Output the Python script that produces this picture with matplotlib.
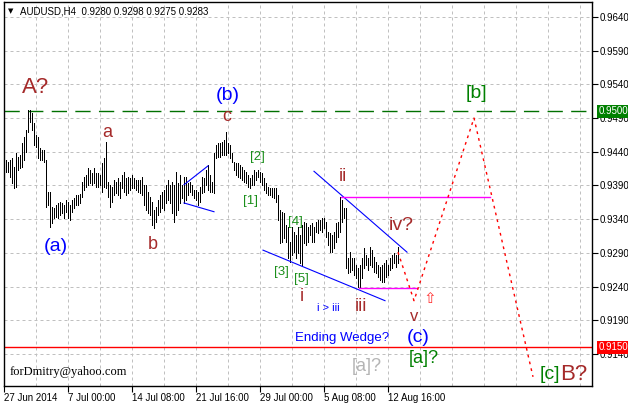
import matplotlib
matplotlib.use('Agg')
import matplotlib.pyplot as plt
from matplotlib.transforms import blended_transform_factory

plt.rcParams['font.family'] = ['Liberation Sans', 'DejaVu Sans']

# AUDUSD H4 bars, left to right (high / low)
highs = [0.9428, 0.9425, 0.9428, 0.9431, 0.9417, 0.9438, 0.9432, 0.9435, 0.9453, 0.9462,
         0.9472, 0.9502, 0.9502, 0.9498, 0.9483, 0.9465, 0.9462, 0.9446, 0.9443, 0.9443,
         0.9428, 0.9380, 0.9380, 0.9358, 0.9357, 0.9361, 0.9364, 0.9365, 0.9364, 0.9361,
         0.9368, 0.9365, 0.9361, 0.9368, 0.9371, 0.9376, 0.9376, 0.9377, 0.9395, 0.9402,
         0.9405, 0.9416, 0.9413, 0.9408, 0.9416, 0.9408, 0.9408, 0.9405, 0.9423, 0.9431,
         0.9454, 0.9395, 0.9391, 0.9388, 0.9398, 0.9395, 0.9401, 0.9395, 0.9405, 0.9410,
         0.9401, 0.9402, 0.9401, 0.9405, 0.9401, 0.9398, 0.9398, 0.9398, 0.9402, 0.9391,
         0.9391, 0.9380, 0.9373, 0.9365, 0.9354, 0.9358, 0.9368, 0.9376, 0.9380, 0.9383,
         0.9391, 0.9398, 0.9391, 0.9395, 0.9391, 0.9410, 0.9394, 0.9405, 0.9391, 0.9402,
         0.9402, 0.9394, 0.9395, 0.9391, 0.9383, 0.9383, 0.9380, 0.9388, 0.9402, 0.9401,
         0.9413, 0.9420, 0.9405, 0.9395, 0.9438, 0.9450, 0.9453, 0.9453, 0.9454, 0.9457,
         0.9469, 0.9453, 0.9450, 0.9438, 0.9425, 0.9423, 0.9423, 0.9420, 0.9417, 0.9413,
         0.9410, 0.9405, 0.9401, 0.9405, 0.9413, 0.9410, 0.9413, 0.9410, 0.9408, 0.9401,
         0.9394, 0.9388, 0.9386, 0.9386, 0.9386, 0.9386, 0.9376, 0.9354, 0.9351, 0.9349,
         0.9331, 0.9328, 0.9306, 0.9328, 0.9321, 0.9316, 0.9328, 0.9316, 0.9331, 0.9336,
         0.9334, 0.9328, 0.9331, 0.9334, 0.9328, 0.9336, 0.9339, 0.9339, 0.9342, 0.9342,
         0.9336, 0.9321, 0.9320, 0.9316, 0.9321, 0.9334, 0.9336, 0.9373, 0.9368, 0.9357,
         0.9357, 0.9282, 0.9291, 0.9282, 0.9282, 0.9272, 0.9268, 0.9272, 0.9282, 0.9297,
         0.9287, 0.9282, 0.9299, 0.9294, 0.9284, 0.9276, 0.9272, 0.9269, 0.9272, 0.9275,
         0.9279, 0.9272, 0.9282, 0.9287, 0.9290, 0.9287, 0.9298]
lows = [0.9410, 0.9410, 0.9402, 0.9394, 0.9386, 0.9388, 0.9413, 0.9416, 0.9417, 0.9428,
        0.9440, 0.9469, 0.9484, 0.9472, 0.9450, 0.9447, 0.9431, 0.9428, 0.9428, 0.9425,
        0.9358, 0.9361, 0.9328, 0.9334, 0.9342, 0.9343, 0.9342, 0.9346, 0.9349, 0.9342,
        0.9351, 0.9342, 0.9339, 0.9351, 0.9357, 0.9361, 0.9361, 0.9364, 0.9373, 0.9383,
        0.9388, 0.9391, 0.9394, 0.9391, 0.9394, 0.9388, 0.9388, 0.9391, 0.9380, 0.9388,
        0.9386, 0.9373, 0.9358, 0.9365, 0.9376, 0.9379, 0.9376, 0.9371, 0.9386, 0.9380,
        0.9376, 0.9379, 0.9383, 0.9386, 0.9386, 0.9383, 0.9380, 0.9379, 0.9376, 0.9361,
        0.9354, 0.9349, 0.9346, 0.9331, 0.9327, 0.9336, 0.9346, 0.9351, 0.9357, 0.9354,
        0.9364, 0.9368, 0.9364, 0.9349, 0.9336, 0.9346, 0.9354, 0.9364, 0.9371, 0.9364,
        0.9368, 0.9376, 0.9380, 0.9376, 0.9371, 0.9368, 0.9361, 0.9365, 0.9379, 0.9380,
        0.9391, 0.9383, 0.9380, 0.9380, 0.9379, 0.9431, 0.9432, 0.9432, 0.9435, 0.9435,
        0.9435, 0.9438, 0.9431, 0.9425, 0.9413, 0.9405, 0.9402, 0.9401, 0.9398, 0.9395,
        0.9394, 0.9388, 0.9386, 0.9391, 0.9391, 0.9398, 0.9402, 0.9395, 0.9391, 0.9383,
        0.9379, 0.9376, 0.9376, 0.9373, 0.9371, 0.9365, 0.9339, 0.9305, 0.9306, 0.9312,
        0.9306, 0.9282, 0.9276, 0.9287, 0.9291, 0.9282, 0.9290, 0.9275, 0.9272, 0.9305,
        0.9302, 0.9306, 0.9316, 0.9306, 0.9306, 0.9321, 0.9320, 0.9324, 0.9321, 0.9327,
        0.9313, 0.9302, 0.9291, 0.9291, 0.9297, 0.9306, 0.9313, 0.9321, 0.9336, 0.9342,
        0.9268, 0.9260, 0.9261, 0.9265, 0.9257, 0.9253, 0.9240, 0.9238, 0.9253, 0.9268,
        0.9272, 0.9265, 0.9272, 0.9269, 0.9261, 0.9260, 0.9254, 0.9250, 0.9247, 0.9247,
        0.9254, 0.9257, 0.9265, 0.9268, 0.9275, 0.9269, 0.9275]

# axis labels
date_ticks = [-1, 31, 63, 95, 127, 159, 191]
date_labels = ['27 Jun 2014', '7 Jul 00:00', '14 Jul 08:00', '21 Jul 16:00',
               '29 Jul 00:00', '5 Aug 08:00', '12 Aug 16:00']
price_ticks = [0.9140, 0.9190, 0.9240, 0.9290, 0.9340, 0.9390, 0.9440,
               0.9490, 0.9540, 0.9590, 0.9640]

# levels and trend lines (bar index, price)
target_level = 0.9500
stop_level = 0.9150
small_wedge_top = ([89, 101], [0.9391, 0.9419])
small_wedge_bot = ([89, 104], [0.9364, 0.9351])
wedge_top = ([154, 200.5], [0.9411, 0.9291])
wedge_bot = ([128.5, 189.5], [0.9294, 0.9219])
ii_level = ([167.5, 242], [0.9373, 0.9373])
iii_level = ([176.5, 205.5], [0.9238, 0.9238])
proj_bars = [196, 204, 234, 263.5]
proj_prices = [0.9291, 0.9219, 0.9490, 0.9106]

brown = '#a52a2a'
blue = '#0000ff'
green = '#008000'
lgreen = '#1a8f1a'
# wave labels: text, bar, price, colour, size
wave_labels = [
    ('A?', 14.75, 0.9536, brown, 16),
    ('a', 50.5, 0.9469, brown, 13),
    ('(a)', 25, 0.9299, blue, 14),
    ('b', 73.5, 0.9303, brown, 13),
    ('(b)', 111, 0.9523, blue, 14),
    ('c', 110.5, 0.9493, brown, 13),
    ('[2]', 125.75, 0.9432, lgreen, 9.5),
    ('[1]', 122, 0.9367, lgreen, 9.5),
    ('[4]', 144.5, 0.9336, lgreen, 9.5),
    ('[3]', 137.75, 0.9262, lgreen, 9.5),
    ('[5]', 147.75, 0.9251, lgreen, 9.5),
    ('i', 147.75, 0.9225, brown, 13),
    ('ii', 168.25, 0.9403, brown, 13),
    ('iii', 177.5, 0.9211, brown, 13),
    ('iv?', 197.75, 0.9330, brown, 14),
    ('i > iii', 161.25, 0.9208, blue, 8),
    ('v', 204, 0.9195, brown, 12),
    ('(c)', 206, 0.9165, blue, 14),
    ('[a]?', 209, 0.9133, green, 13),
    ('[a]?', 180.5, 0.9121, '#b4b4b4', 13),
    ('[b]', 235.25, 0.9526, green, 14),
    ('Ending Wedge?', 168, 0.9164, blue, 9.5),
]

fig = plt.figure(figsize=(6.28, 4.03), dpi=100)
ax = fig.add_axes([4 / 628, 17 / 403, 588 / 628, 384 / 403])
ax.set_xlim(-1, 293)
ax.set_ylim(0.90924, 0.96622)

# grid
for p in price_ticks:
    ax.axhline(p, color='#c0c0c0', lw=0.72, ls=(0, (3, 3)), zorder=0)
for b in range(-1, 293, 16):
    ax.axvline(b, color='#c0c0c0', lw=0.72, ls=(0, (3, 3)), zorder=0)

# bars
idx = list(range(len(highs)))
ax.vlines(idx, lows, highs, color='black', lw=0.72, antialiased=False, zorder=3)

# levels
ax.axhline(target_level, color='#007000', lw=1.0, ls=(0, (11, 6)), zorder=2)
ax.axhline(stop_level, color='red', lw=1.0, zorder=2)

# trend lines
for ln in [small_wedge_top, small_wedge_bot, wedge_top, wedge_bot]:
    ax.plot(ln[0], ln[1], color=blue, lw=0.8, zorder=4)
for ln in [ii_level, iii_level]:
    ax.plot(ln[0], ln[1], color='magenta', lw=1.0, zorder=4)
ax.plot(proj_bars, proj_prices, color='red', lw=1.0, ls=(0, (2, 3)), zorder=4)

# labels
for txt, b, p, col, sz in wave_labels:
    ax.text(b, p, txt, color=col, fontsize=sz, ha='center', va='center', zorder=5)
ax.text(277, 0.9110, '[c]', color=green, fontsize=14, ha='right', va='center', zorder=5)
ax.text(277, 0.9110, 'B?', color=brown, fontsize=16, ha='left', va='center', zorder=5)
ax.text(212, 0.9222, '\u21e7', color='#ff3030', fontsize=11, ha='center', va='center',
        family='DejaVu Sans', zorder=5)
ax.text(2, 0.9113, 'forDmitry@yahoo.com', color='black', fontsize=9, ha='left',
        va='center', family='Liberation Serif', zorder=5)

# axes styling
for s in ax.spines.values():
    s.set_color('black')
    s.set_linewidth(1.0)
ax.yaxis.tick_right()
ax.set_yticks(price_ticks)
ax.set_yticklabels(['%.4f' % p for p in price_ticks])
ax.tick_params(axis='y', length=4, width=0.8, pad=1.5, labelsize=7, colors='black')
ax.set_xticks(date_ticks)
ax.set_xticklabels(date_labels)
for lbl in ax.get_xticklabels():
    lbl.set_ha('left')
ax.tick_params(axis='x', length=4, width=0.8, pad=1, labelsize=7, colors='black')

# price markers on the scale
tr = blended_transform_factory(ax.transAxes, ax.transData)
ax.text(1.0105, target_level, '0.9500', transform=tr, color='white', fontsize=7,
        ha='left', va='center', clip_on=False, zorder=10,
        bbox=dict(boxstyle='square,pad=0.15', fc='#008000', ec='none'))
ax.text(1.0105, stop_level, '0.9150', transform=tr, color='white', fontsize=7,
        ha='left', va='center', clip_on=False, zorder=10,
        bbox=dict(boxstyle='square,pad=0.15', fc='red', ec='none'))

# header
fig.text(8 / 628, 1 - 11 / 403, '\u25bc', fontsize=5, family='DejaVu Sans',
         va='center', ha='left')
fig.text(20 / 628, 1 - 11 / 403, 'AUDUSD,H4  0.9280 0.9298 0.9275 0.9283',
         fontsize=7, va='center', ha='left')

fig.savefig('out.png', dpi=100, facecolor='white')
